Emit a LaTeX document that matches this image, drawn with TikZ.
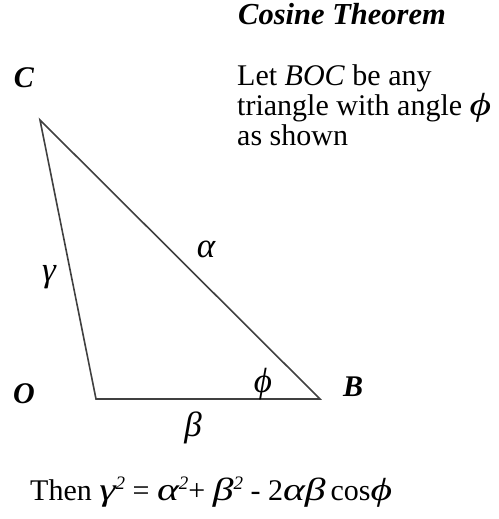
\documentclass[tikz,border=0pt]{standalone}
\usepackage{fontspec}
\usepackage{graphicx}
\setmainfont{Liberation Serif}
\newcommand\gk[1]{\scalebox{1.3}[1]{\fontsize{32}{30}\selectfont\itshape #1}}
\newcommand\sqr{\raisebox{11pt}{\fontsize{19}{19}\selectfont\textit{2}}}
\begin{document}
\begin{tikzpicture}[x=1pt,y=-1pt,
  txt/.style={inner sep=0pt,anchor=base west,font=\fontsize{30}{30}\selectfont},
  lab/.style={inner sep=0pt,font=\fontsize{30}{30}\selectfont\bfseries\itshape},
  greek/.style={inner sep=0pt,font=\fontsize{35}{30}\selectfont\itshape},
  edge/.style={draw=black!75,line width=1.6pt,line join=miter}]
\useasboundingbox (0,0) rectangle (498,519);
\coordinate (C) at (40,120);
\coordinate (O) at (96,399);
\coordinate (B) at (320,399);
\draw[edge] (C) -- (O) -- (B) -- cycle;
\node[lab] (lC) at (24,78) {C};
\node[lab] (lO) at (24,394) {O};
\node[lab] (lB) at (353,387) {B};
\node[greek] (phi) at (263,384) {ϕ};
\node[greek] (al) at (206,249) {α};
\node[greek] (ga) at (49,277) {γ};
\node[greek] (be) at (193,428) {β};
\node[txt,font=\fontsize{30.5}{30}\selectfont\bfseries\itshape] (title) at (238,25) {Cosine Theorem};
\node[txt] (l1) at (237,85) {Let \textit{BOC} be any};
\node[txt] (l2) at (237,115) {triangle with angle \gk{ϕ}};
\node[txt] (l3) at (237,145) {as shown};
\node[txt] (eq) at (30,500) {Then \gk{γ}\sqr{} = \gk{α}\sqr+ \gk{β}\sqr{} - 2\gk{αβ}\,cos\gk{ϕ}};
\end{tikzpicture}
\end{document}
